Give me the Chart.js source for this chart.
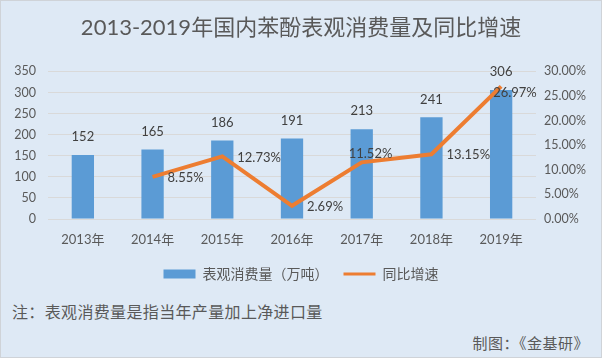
<!DOCTYPE html>
<html>
<head>
<meta charset="utf-8">
<script src="https://cdn.jsdelivr.net/npm/chart.js@4.4.1/dist/chart.umd.min.js"></script>
<style>
  body { margin: 0; }
  .card {
    position: relative;
    width: 602px;
    height: 358px;
    box-sizing: border-box;
    border: 1px solid #cfd3d8;
    background: #dee9f5;
    font-family: Lato, "Noto Sans CJK SC", sans-serif;
    color: #595959;
  }
  .chart-wrapper { position: absolute; left: 0; top: 0; width: 600px; height: 290px; }
  .note { position: absolute; left: 11px; top: 301px; font-size: 16px; line-height: 20px; letter-spacing: 0.35px; }
  .source { position: absolute; right: 12px; top: 333px; font-size: 15px; line-height: 18px; letter-spacing: 0.5px; }
</style>
</head>
<body>
<div class="card">
  <div class="chart-wrapper"><canvas id="chart" width="600" height="290"></canvas></div>
  <div class="note">注：表观消费量是指当年产量加上净进口量</div>
  <div class="source">制图：《金基研》</div>
</div>
<script>
const years = ["2013年", "2014年", "2015年", "2016年", "2017年", "2018年", "2019年"];
const consumption = [152, 165, 186, 191, 213, 241, 306];
const growth = [null, 8.55, 12.73, 2.69, 11.52, 13.15, 26.97];
const leftTicks = [0, 50, 100, 150, 200, 250, 300, 350];
const rightTicks = [0, 5, 10, 15, 20, 25, 30];

const FONT = 'Lato, "Noto Sans CJK SC", sans-serif';
const LABEL_COLOR = "#404040";

// where each growth label sits relative to its point (most are "right")
const growthLabelShift = { 4: [-13, -9], 6: [-8, 7] };

const valueLabels = {
    id: "valueLabels",
    afterDatasetsDraw(chart) {
        const ctx = chart.ctx;
        ctx.save();
        ctx.fillStyle = LABEL_COLOR;
        ctx.font = "13px " + FONT;
        ctx.textBaseline = "middle";

        chart.getDatasetMeta(0).data.forEach((bar, i) => {
            ctx.textAlign = "center";
            ctx.fillText(String(consumption[i]), bar.x, bar.y - 18);
        });

        chart.getDatasetMeta(1).data.forEach((pt, i) => {
            if (growth[i] === null) return;
            const shift = growthLabelShift[i] || [15, 1];
            ctx.textAlign = "left";
            ctx.fillText(growth[i].toFixed(2) + "%", pt.x + shift[0], pt.y + shift[1]);
        });
        ctx.restore();
    },
};

new Chart(document.getElementById("chart"), {
    data: {
        labels: years,
        datasets: [
            {
                type: "bar",
                label: "表观消费量（万吨）",
                data: consumption,
                backgroundColor: "#5b9bd5",
                categoryPercentage: 1,
                barPercentage: 0.32,
                yAxisID: "y",
                order: 1,
            },
            {
                type: "line",
                label: "同比增速",
                data: growth,
                borderColor: "#ed7d31",
                backgroundColor: "#ed7d31",
                borderWidth: 4,
                pointRadius: 0,
                tension: 0,
                yAxisID: "y1",
                order: 0,
            },
        ],
    },
    options: {
        responsive: false,
        animation: false,
        layout: { padding: 0 },
        plugins: {
            title: {
                display: true,
                text: "2013-2019年国内苯酚表观消费量及同比增速",
                color: "#595959",
                font: { family: FONT, size: 22, weight: "normal", lineHeight: 1.2 },
                padding: { top: 14, bottom: 30 },
            },
            legend: {
                position: "bottom",
                labels: {
                    color: "#595959",
                    font: { family: FONT, size: 14 },
                    usePointStyle: true,
                    pointStyleWidth: 32,
                    boxHeight: 9,
                    padding: 15,
                    generateLabels(chart) {
                        const items = Chart.defaults.plugins.legend.labels.generateLabels(chart);
                        items.sort((a, b) => a.datasetIndex - b.datasetIndex);
                        items[0].pointStyle = "rect";
                        items[0].lineWidth = 0;
                        items[1].pointStyle = "line";
                        items[1].lineWidth = 3;
                        items[1].strokeStyle = "#ed7d31";
                        return items;
                    },
                },
            },
            tooltip: { enabled: false },
        },
        scales: {
            x: {
                grid: { display: false },
                border: { display: false },
                ticks: { color: "#595959", font: { family: FONT, size: 13 }, padding: 5 },
                afterFit(scale) { scale.height = 33; },
            },
            y: {
                position: "left",
                min: 0,
                max: 350,
                afterBuildTicks(scale) { scale.ticks = leftTicks.map((v) => ({ value: v })); },
                grid: { color: "#d9d9d9", drawTicks: false },
                border: { display: false },
                ticks: { color: "#595959", font: { family: FONT, size: 12.5 }, padding: 12 },
                afterFit(scale) { scale.width = 47; },
            },
            y1: {
                position: "right",
                min: 0,
                max: 30,
                afterBuildTicks(scale) { scale.ticks = rightTicks.map((v) => ({ value: v })); },
                grid: { display: false, drawTicks: false },
                border: { display: false },
                ticks: {
                    color: "#595959",
                    font: { family: FONT, size: 12.5 },
                    padding: 8,
                    callback: (v) => v.toFixed(2) + "%",
                },
                afterFit(scale) { scale.width = 65; },
            },
        },
    },
    plugins: [valueLabels],
});
</script>
</body>
</html>
